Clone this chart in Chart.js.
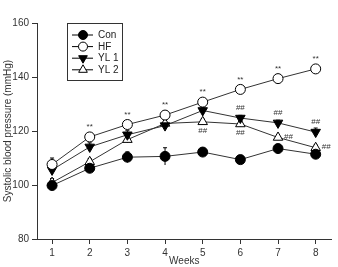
<!DOCTYPE html>
<html>
<head>
<meta charset="utf-8">
<script src="https://cdn.jsdelivr.net/npm/chart.js@4/dist/chart.umd.min.js"></script>
<style>
  html, body { margin: 0; padding: 0; background: #fff; }
  #wrap { width: 338px; height: 267px; }
</style>
</head>
<body>
<div id="wrap"><canvas id="bpChart" width="338" height="267"></canvas></div>
<script>
// data
const weeks = [1, 2, 3, 4, 5, 6, 7, 8];
const groupNames = ["Con", "HF", "YL 1", "YL 2"];
const conValues = [99.8, 106.2, 110.3, 110.6, 112.2, 109.4, 113.5, 111.4];
const hfValues = [107.6, 117.8, 122.4, 125.9, 130.7, 135.4, 139.4, 143.0];
const yl1Values = [105.6, 114.1, 118.6, 122.0, 127.6, 124.8, 123.0, 119.6];
const yl2Values = [100.9, 108.6, 116.8, 122.8, 123.4, 122.6, 117.6, 113.8];
const conSem = [1.0, 1.2, 2.0, 3.2, 1.0, 1.0, 1.5, 1.0];
const hfSem = [2.4, 1.2, 1.5, 1.5, 1.0, 1.0, 1.0, 1.2];
const yl1Sem = [1.5, 1.5, 1.5, 1.2, 1.0, 1.0, 1.0, 1.5];
const yl2Sem = [1.5, 1.2, 1.2, 1.0, 1.0, 1.0, 1.0, 1.0];
const hfMarks = ["", "**", "**", "**", "**", "**", "**", "**"];
const yl1Marks = ["", "", "", "", "", "##", "##", "##"];
const yl2Marks = ["", "", "", "", "##", "##", "##", "##"];
const yTicks = [80, 100, 120, 140, 160];

const lineColor = "#333";
const fontFamily = "'Liberation Sans', Arial, sans-serif";

function pts(values) {
    return weeks.map((w, i) => ({ x: w, y: values[i] }));
}

const datasets = [
    { label: groupNames[0], data: pts(conValues), sem: conSem, pointStyle: "circle", pointRadius: 5, backgroundColor: "#000", rotation: 0 },
    { label: groupNames[1], data: pts(hfValues), sem: hfSem, marks: hfMarks, pointStyle: "circle", pointRadius: 5, backgroundColor: "#fff", rotation: 0 },
    { label: groupNames[2], data: pts(yl1Values), sem: yl1Sem, marks: yl1Marks, pointStyle: "triangle", pointRadius: 5.5, backgroundColor: "#000", rotation: 180 },
    { label: groupNames[3], data: pts(yl2Values), sem: yl2Sem, marks: yl2Marks, pointStyle: "triangle", pointRadius: 5.5, backgroundColor: "#fff", rotation: 0 }
].map(ds => Object.assign(ds, {
    borderColor: lineColor,
    borderWidth: 1,
    pointBorderColor: "#000",
    pointBackgroundColor: ds.backgroundColor,
    pointBorderWidth: 1,
    pointRotation: ds.rotation,
    showLine: true,
    fill: false,
    tension: 0
}));

// small SEM bars, drawn under the markers
const errorBars = {
    id: "errorBars",
    beforeDatasetsDraw(chart) {
        const ctx = chart.ctx;
        const ys = chart.scales.y;
        ctx.save();
        ctx.strokeStyle = "#000";
        ctx.lineWidth = 1;
        chart.data.datasets.forEach((ds, di) => {
            chart.getDatasetMeta(di).data.forEach((pt, i) => {
                const top = ys.getPixelForValue(ds.data[i].y + ds.sem[i]);
                const bot = ys.getPixelForValue(ds.data[i].y - ds.sem[i]);
                ctx.beginPath();
                ctx.moveTo(pt.x, top);
                ctx.lineTo(pt.x, bot);
                ctx.moveTo(pt.x - 2, top);
                ctx.lineTo(pt.x + 2, top);
                ctx.stroke();
            });
        });
        ctx.restore();
    }
};

// significance marks (** vs Con, ## vs HF)
const sigMarks = {
    id: "sigMarks",
    afterDatasetsDraw(chart) {
        const ctx = chart.ctx;
        ctx.save();
        ctx.fillStyle = "#333";
        ctx.font = "8px " + fontFamily;
        chart.data.datasets.forEach((ds, di) => {
            if (!ds.marks) return;
            chart.getDatasetMeta(di).data.forEach((pt, i) => {
                const m = ds.marks[i];
                if (!m) return;
                if (di === 3 && i >= 6) {
                    ctx.textAlign = "left";
                    ctx.textBaseline = "middle";
                    ctx.fillText(m, pt.x + 6, pt.y - 1);
                } else if (di === 3) {
                    ctx.textAlign = "center";
                    ctx.textBaseline = "top";
                    ctx.fillText(m, pt.x, pt.y + 5);
                } else {
                    ctx.textAlign = "center";
                    ctx.textBaseline = "bottom";
                    ctx.fillText(m, pt.x, pt.y - 6);
                }
            });
        });
        ctx.restore();
    }
};

// boxed legend inside the plot
const boxLegend = {
    id: "boxLegend",
    afterDraw(chart) {
        const ctx = chart.ctx;
        const x0 = 67, y0 = 23, w = 55, h = 57;
        ctx.save();
        ctx.strokeStyle = "#333";
        ctx.lineWidth = 1;
        ctx.strokeRect(x0 + 0.5, y0 + 0.5, w, h);
        ctx.font = "10px " + fontFamily;
        ctx.textAlign = "left";
        ctx.textBaseline = "middle";
        chart.data.datasets.forEach((ds, i) => {
            const y = y0 + 12 + i * 11.6;
            ctx.strokeStyle = "#000";
            ctx.beginPath();
            ctx.moveTo(x0 + 5, y);
            ctx.lineTo(x0 + 26, y);
            ctx.stroke();
            ctx.fillStyle = ds.backgroundColor;
            ctx.strokeStyle = "#000";
            Chart.helpers.drawPoint(ctx, {
                pointStyle: ds.pointStyle,
                rotation: ds.rotation,
                radius: ds.pointRadius - 0.5,
                borderWidth: 1
            }, x0 + 16, y);
            ctx.fillStyle = "#222";
            ctx.fillText(ds.label, x0 + 31, y + 0.5);
        });
        ctx.restore();
    }
};

new Chart(document.getElementById("bpChart"), {
    type: "scatter",
    data: { datasets },
    plugins: [errorBars, sigMarks, boxLegend],
    options: {
        responsive: false,
        animation: false,
        layout: { padding: { top: 23, right: 3, left: 1, bottom: 0 } },
        plugins: { legend: { display: false }, tooltip: { enabled: false } },
        scales: {
            x: {
                type: "linear",
                min: 0.6,
                max: 8.42,
                afterBuildTicks: s => { s.ticks = weeks.map(v => ({ value: v })); },
                afterFit: s => { s.height = 28; },
                grid: { drawOnChartArea: false, drawTicks: true, tickLength: 5, color: "#333" },
                border: { color: "#333", width: 1 },
                ticks: { font: { size: 10, family: fontFamily }, color: "#333", padding: 3 },
                title: { display: true, text: "Weeks", font: { size: 10, family: fontFamily }, color: "#333", padding: { top: 1, bottom: 0 } }
            },
            y: {
                min: 80,
                max: 160,
                afterBuildTicks: s => { s.ticks = yTicks.map(v => ({ value: v })); },
                afterFit: s => { s.width = 36; },
                grid: { drawOnChartArea: false, drawTicks: true, tickLength: 5, color: "#333" },
                border: { color: "#333", width: 1 },
                ticks: { font: { size: 10, family: fontFamily }, color: "#333", padding: 3 },
                title: { display: true, text: "Systolic blood pressure (mmHg)", font: { size: 10, family: fontFamily }, color: "#333", padding: { top: 1, bottom: 0 } }
            }
        }
    }
});
</script>
</body>
</html>
